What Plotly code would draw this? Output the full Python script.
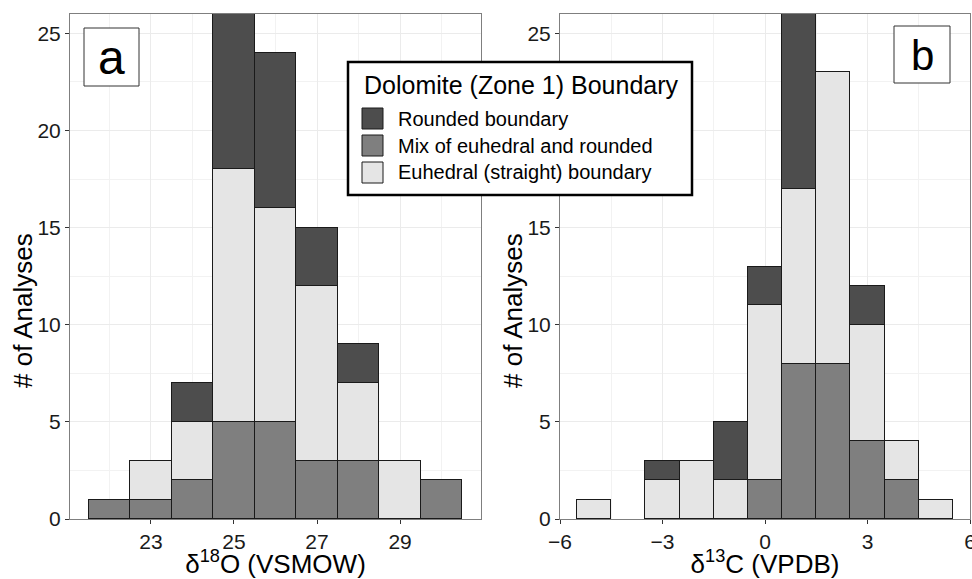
import plotly.graph_objects as go

# ---- data: counts per 1-unit bin, split by zone-1 boundary type ----
o18_bins = [22, 23, 24, 25, 26, 27, 28, 29, 30]
o18_mix = [1, 1, 2, 5, 5, 3, 3, 0, 2]
o18_euhedral = [0, 2, 3, 13, 11, 9, 4, 3, 0]
o18_rounded = [0, 0, 2, 8, 8, 3, 2, 0, 0]

c13_bins = [-5, -4, -3, -2, -1, 0, 1, 2, 3, 4, 5]
c13_mix = [0, 0, 0, 0, 0, 2, 8, 8, 4, 2, 0]
c13_euhedral = [1, 0, 2, 3, 2, 9, 9, 15, 6, 2, 1]
c13_rounded = [0, 0, 1, 0, 3, 2, 9, 0, 2, 0, 0]

series_names = ["Rounded boundary", "Mix of euhedral and rounded",
                "Euhedral (straight) boundary"]
series_colors = {"Rounded boundary": "#4d4d4d",
                 "Mix of euhedral and rounded": "#7f7f7f",
                 "Euhedral (straight) boundary": "#e5e5e5"}

o18_ticks = [23, 25, 27, 29]
c13_ticks = [-6, -3, 0, 3, 6]
y_ticks = [0, 5, 10, 15, 20, 25]

W, H = 972, 579
FONT = "Liberation Sans, Arial, sans-serif"


def px(x):
    return x / W


def py(y):
    return 1 - y / H


def nz(vals):
    return [v if v else None for v in vals]


fig = go.Figure()

# stacking order bottom -> top: mix, euhedral, rounded
panels = [
    ("x", "y", o18_bins, {"Mix of euhedral and rounded": o18_mix,
                          "Euhedral (straight) boundary": o18_euhedral,
                          "Rounded boundary": o18_rounded}),
    ("x2", "y2", c13_bins, {"Mix of euhedral and rounded": c13_mix,
                            "Euhedral (straight) boundary": c13_euhedral,
                            "Rounded boundary": c13_rounded}),
]
for xa, ya, bins, data in panels:
    for name in ["Mix of euhedral and rounded", "Euhedral (straight) boundary",
                 "Rounded boundary"]:
        fig.add_trace(go.Bar(
            x=bins, y=nz(data[name]), width=1, name=name,
            marker=dict(color=series_colors[name],
                        line=dict(color="#1a1a1a", width=1)),
            xaxis=xa, yaxis=ya, showlegend=False,
        ))

grid = "#ebebeb"
minor_grid = "#f2f2f2"
tickfont = dict(family=FONT, size=21, color="#1a1a1a")
titlefont = dict(family=FONT, size=26, color="#000000")
common_axis = dict(showline=True, mirror=True, linecolor="#7f7f7f", linewidth=1,
                   ticks="outside", ticklen=4, tickcolor="#333333",
                   showgrid=True, gridcolor=grid, gridwidth=1.2,
                   zeroline=False, tickfont=tickfont, automargin=False,
                   ticklabeloverflow="allow")

y_minor = [2.5, 7.5, 12.5, 17.5, 22.5]

fig.update_layout(
    width=W, height=H,
    margin=dict(l=0, r=0, t=0, b=0),
    paper_bgcolor="white", plot_bgcolor="white",
    barmode="stack", bargap=0,
    showlegend=False,
    xaxis=dict(common_axis, domain=[px(70), px(481)], range=[21.05, 30.95],
               tickvals=o18_ticks, anchor="y",
               minor=dict(tickvals=[22, 24, 26, 28, 30], showgrid=True,
                          gridcolor=minor_grid, gridwidth=1, ticks=""),
               title=dict(text="δ<sup>18</sup>O (VSMOW)", font=titlefont, standoff=3)),
    yaxis=dict(common_axis, domain=[py(519), py(14)], range=[0, 26],
               tickvals=y_ticks, anchor="x",
               minor=dict(tickvals=y_minor, showgrid=True,
                          gridcolor=minor_grid, gridwidth=1, ticks="")),
    xaxis2=dict(common_axis, domain=[px(560), px(970)], range=[-6, 6],
                tickvals=c13_ticks, anchor="y2",
                minor=dict(tickvals=[-4.5, -1.5, 1.5, 4.5], showgrid=True,
                           gridcolor=minor_grid, gridwidth=1, ticks=""),
                title=dict(text="δ<sup>13</sup>C (VPDB)", font=titlefont, standoff=3)),
    yaxis2=dict(common_axis, domain=[py(519), py(14)], range=[0, 26],
                tickvals=y_ticks, anchor="x2",
                minor=dict(tickvals=y_minor, showgrid=True,
                           gridcolor=minor_grid, gridwidth=1, ticks="")),
)

shapes = []
annotations = []

# y-axis titles, one per panel
for cx in (23, 513):
    annotations.append(dict(xref="paper", yref="paper", x=px(cx), y=py(311),
                            text="# of Analyses", showarrow=False, textangle=-90,
                            xanchor="center", yanchor="middle", font=titlefont))

# panel letters in boxed labels
for letter, (x0, y0, x1, y1), size in [("a", (84, 28, 139, 86), 48),
                                       ("b", (894, 26, 950, 83), 42)]:
    shapes.append(dict(type="rect", xref="paper", yref="paper",
                       x0=px(x0), x1=px(x1), y0=py(y1), y1=py(y0),
                       line=dict(color="#333333", width=1), fillcolor="white",
                       layer="above"))
    annotations.append(dict(xref="paper", yref="paper",
                            x=px((x0 + x1) / 2), y=py((y0 + y1) / 2 + 1),
                            text=letter, showarrow=False,
                            xanchor="center", yanchor="middle",
                            font=dict(family=FONT, size=size, color="black")))

# legend panel
shapes.append(dict(type="rect", xref="paper", yref="paper",
                   x0=px(348), x1=px(692), y0=py(195), y1=py(62),
                   line=dict(color="black", width=2.5), fillcolor="white",
                   layer="above"))
annotations.append(dict(xref="paper", yref="paper", x=px(362), y=py(85),
                        text="Dolomite (Zone 1) Boundary", showarrow=False,
                        xanchor="left", yanchor="middle",
                        font=dict(family=FONT, size=25, color="black")))
for i, name in enumerate(series_names):
    cy = 118.5 + 27 * i
    shapes.append(dict(type="rect", xref="paper", yref="paper",
                       x0=px(362), x1=px(383), y0=py(cy + 10.5), y1=py(cy - 10.5),
                       line=dict(color="#1a1a1a", width=1),
                       fillcolor=series_colors[name], layer="above"))
    annotations.append(dict(xref="paper", yref="paper", x=px(396), y=py(cy),
                            text=name, showarrow=False,
                            xanchor="left", yanchor="middle",
                            font=dict(family=FONT, size=20, color="black")))

fig.update_layout(shapes=shapes, annotations=annotations)

fig.write_html("out.html")
